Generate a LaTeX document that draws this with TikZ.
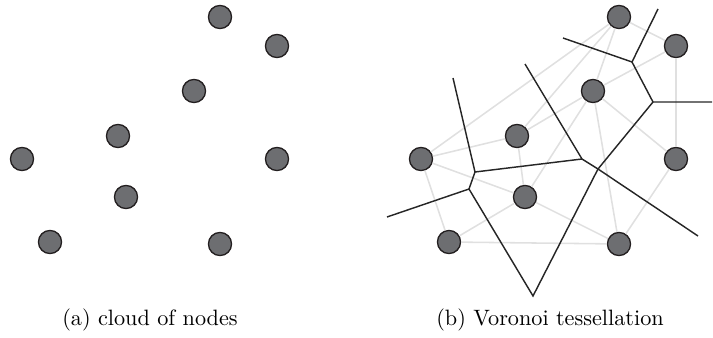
\documentclass[tikz,border=0pt]{standalone}
\usepackage[svgnames]{xcolor}
\usepackage{tikz}
\usetikzlibrary{positioning}
\definecolor{sitefill}{RGB}{109,110,113}
\definecolor{siteline}{RGB}{35,31,32}
\definecolor{delgray}{RGB}{224,224,224}
\tikzset{
	site/.style={circle, draw=siteline, fill=sitefill, line width=0.6pt,
		inner sep=0pt, minimum size=10.4pt},
	delaunay/.style={draw=delgray, line width=0.7pt},
	voronoi/.style={draw=black!85, line width=0.65pt},
	%	caption/.style={font=\small},
}
\begin{document}
\begin{tikzpicture}[x=0.45pt,y=-0.45pt]
\useasboundingbox (0,0) rectangle (713,338);

\node[site] (p1) at (220,17) {};
\node[site] (p2) at (277,46) {};
\node[site] (p3) at (194,91) {};
\node[site] (p4) at (118,136) {};
\node[site] (p5) at (22,159) {};
\node[site] (p6) at (277,159) {};
\node[site] (p7) at (126,197) {};
\node[site] (p8) at (50,242) {};
\node[site] (p9) at (220,244) {};
\node (capa) at (150,320) {(a) cloud of nodes};

\begin{scope}[shift={(399,0)}]
\node[site] (q1) at (220,17) {};
\node[site] (q2) at (277,46) {};
\node[site] (q3) at (194,91) {};
\node[site] (q4) at (118,136) {};
\node[site] (q5) at (22,159) {};
\node[site] (q6) at (277,159) {};
\node[site] (q7) at (126,197) {};
\node[site] (q8) at (50,242) {};
\node[site] (q9) at (220,244) {};
\draw[delaunay] (q1) -- (q2);
\draw[delaunay] (q1) -- (q3);
\draw[delaunay] (q1) -- (q4);
\draw[delaunay] (q1) -- (q5);
\draw[delaunay] (q2) -- (q3);
\draw[delaunay] (q2) -- (q6);
\draw[delaunay] (q3) -- (q4);
\draw[delaunay] (q3) -- (q6);
\draw[delaunay] (q3) -- (q7);
\draw[delaunay] (q3) -- (q9);
\draw[delaunay] (q4) -- (q5);
\draw[delaunay] (q4) -- (q7);
\draw[delaunay] (q5) -- (q7);
\draw[delaunay] (q5) -- (q8);
\draw[delaunay] (q6) -- (q9);
\draw[delaunay] (q7) -- (q8);
\draw[delaunay] (q7) -- (q9);
\draw[delaunay] (q8) -- (q9);
\coordinate (v1) at (233,62);
\coordinate (v2) at (254,102);
\coordinate (v3) at (199,169);
\coordinate (v4) at (183,159);
\coordinate (v5) at (76,172);
\coordinate (v6) at (70,189);
\coordinate (v7) at (134,296);
\coordinate (e1) at (259,9);
\coordinate (e2) at (164,38);
\coordinate (e3) at (313,102);
\coordinate (e4) at (126,64);
\coordinate (e5) at (299,236);
\coordinate (e6) at (54,78);
\coordinate (e7) at (-12,217);
\draw[voronoi] (e1)--(v1)--(v2)--(e3);
\draw[voronoi] (e2)--(v1);
\draw[voronoi] (v2)--(v3)--(v7)--(v6)--(e7);
\draw[voronoi] (e4)--(v4)--(v3)--(e5);
\draw[voronoi] (v4)--(v5)--(e6);
\draw[voronoi] (v5)--(v6);
\node (capb) at (151,320) {(b) Voronoi tessellation};
\end{scope}

\end{tikzpicture}
\end{document}
